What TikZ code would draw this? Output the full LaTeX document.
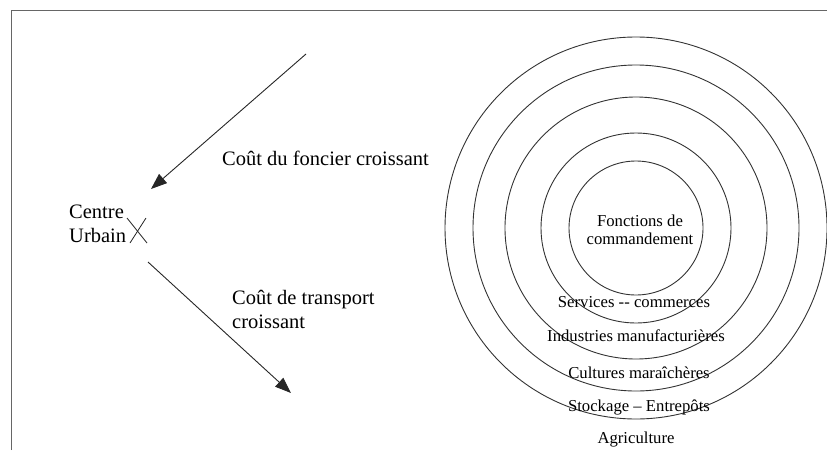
\documentclass[tikz,border=0pt]{standalone}
\usepackage{fontspec}
\setmainfont{Liberation Serif}
\usetikzlibrary{arrows.meta,calc}
\begin{document}
\begin{tikzpicture}[x=1pt,y=-1pt,
  frame/.style={draw=black!60, line width=0.9pt},
  ring/.style={draw=black!80, line width=0.9pt},
  flow/.style={draw=black!85, line width=0.9pt, -{Triangle[length=16pt,width=12pt]}},
  big/.style={font=\fontsize{20.5}{23.5}\selectfont, inner sep=0pt, align=left},
  small/.style={font=\fontsize{16.7}{18}\selectfont, inner sep=0pt, align=center}]
\useasboundingbox (0,0) rectangle (827,450);

% open frame (top and left edges)
\draw[frame] (11,450) -- (11,10) -- (827,10);

% urban centre and its mark (multi-line nodes: base = last line)
\node[big, anchor=base west] (centre) at (69,242) {Centre\\Urbain};
\coordinate (cu) at (137,231);
\draw[black!85, line width=0.8pt] ($(cu)+(-10,-13)$) -- ($(cu)+(10,12)$);
\draw[black!85, line width=0.8pt] ($(cu)+(9,-13)$) -- ($(cu)+(-7,12)$);

% gradients
\coordinate (f0) at (306,54);
\coordinate (f1) at (151,189);
\draw[flow] (f0) -- (f1);
\node[big, anchor=base west] (foncier) at (222,165) {Coût du foncier croissant};

\coordinate (t0) at (148,262);
\coordinate (t1) at (291,393);
\draw[flow] (t0) -- (t1);
\node[big, anchor=base west] (transport) at (232,328) {Coût de transport\\croissant};

% concentric land-use rings
\coordinate (c) at (636,228);
\foreach \r in {67,95,131,163,191} \draw[ring] (c) circle (\r);

\node[small, anchor=base] (cmd) at (640,244) {Fonctions de\\commandement};
\node[small, anchor=base] (serv) at (634,307) {Services -{}- commerces};
\node[small, anchor=base] (indu) at (636,341) {Industries manufacturières};
\node[small, anchor=base] (cult) at (639,378) {Cultures maraîchères};
\node[small, anchor=base] (stock) at (639,411) {Stockage – Entrepôts};
\node[small, anchor=base] (agri) at (636,443) {Agriculture};
\end{tikzpicture}
\end{document}
